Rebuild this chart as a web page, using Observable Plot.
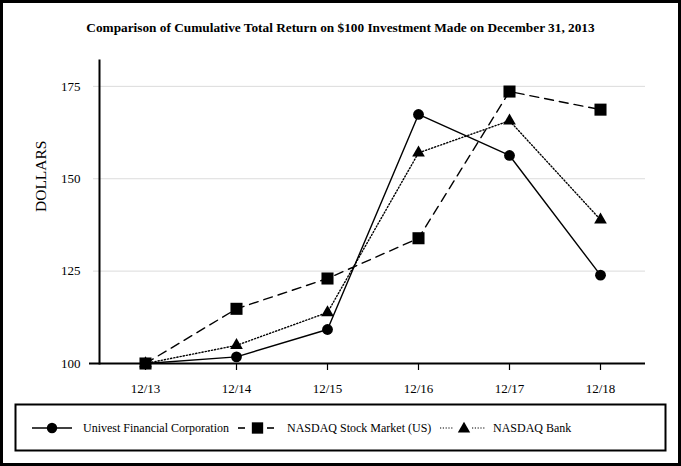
<!DOCTYPE html>
<html>
<head>
<meta charset="utf-8">
<script src="https://cdn.jsdelivr.net/npm/d3@7"></script>
<script src="https://cdn.jsdelivr.net/npm/@observablehq/plot@0.6"></script>
<style>
  html, body { margin: 0; padding: 0; background: #fff; }
  #wrap { position: relative; width: 681px; height: 466px; overflow: hidden; font-family: "Liberation Serif", "Times New Roman", serif; color: #000; }
  #border { position: absolute; left: 0; top: 0; width: 681px; height: 466px; box-sizing: border-box; border: 3px solid #000; pointer-events: none; }
  #title { position: absolute; left: 0; top: 18px; width: 681px; text-align: center; font-weight: bold; font-size: 13.3px; line-height: 20px; }
  #chart { position: absolute; left: 0; top: 40px; }
  #legend { position: absolute; left: 0; top: 395px; }
</style>
</head>
<body>
<div id="wrap">
  <div id="title">Comparison of Cumulative Total Return on $100 Investment Made on December 31, 2013</div>
  <div id="chart"></div>
  <div id="legend"></div>
  <div id="border"></div>
</div>
<script>
// ---- data ----
const years = ["12/13", "12/14", "12/15", "12/16", "12/17", "12/18"];
const seriesNames = ["Univest Financial Corporation", "NASDAQ Stock Market (US)", "NASDAQ Bank"];
const univest = [100, 101.8, 109.2, 167.4, 156.3, 123.9];
const nasdaqMarket = [100, 114.8, 123.0, 133.9, 173.6, 168.7];
const nasdaqBank = [100, 104.9, 113.8, 157.0, 165.7, 138.9];
const yTicks = [100, 125, 150, 175];
const gridTicks = [125, 150, 175];

const toRows = (vals, name) => years.map((y, i) => ({year: y, value: vals[i], series: name}));
const allRows = [toRows(univest, seriesNames[0]), toRows(nasdaqMarket, seriesNames[1]), toRows(nasdaqBank, seriesNames[2])];

const styles = [
  {dash: null, symbol: "circle", r: 5.4},
  {dash: "9,6", symbol: "square", r: 6.8},
  {dash: "1.2,2", symbol: "triangle", r: 4.7}
];

const FONT = "Liberation Serif, Times New Roman, serif";
const marks = [
  Plot.ruleY(gridTicks, {stroke: "#dcdcdc", strokeWidth: 1, insetLeft: -6}),
  Plot.axisX({ticks: years, tickSize: 7, tickPadding: 13, strokeWidth: 1.2, label: null, fontSize: 13}),
  Plot.axisY({ticks: yTicks, tickSize: 0, tickPadding: 19, label: null, fontSize: 13}),
  Plot.frame({anchor: "left", stroke: "black", strokeWidth: 2}),
  Plot.ruleY([100], {stroke: "black", strokeWidth: 2, insetLeft: -10}),
  Plot.text(["DOLLARS"], {frameAnchor: "left", rotate: -90, dx: -58, fontSize: 15.5, text: d => d, fill: "black"})
];
allRows.forEach((rows, i) => {
  marks.push(Plot.line(rows, {x: "year", y: "value", stroke: "black", strokeWidth: 1.4, strokeDasharray: styles[i].dash}));
});
allRows.forEach((rows, i) => {
  marks.push(Plot.dot(rows, {x: "year", y: "value", fill: "black", stroke: "none", symbol: styles[i].symbol, r: styles[i].r}));
});

const chart = Plot.plot({
  width: 681,
  height: 355,
  marginLeft: 99,
  marginRight: 36,
  marginTop: 20,
  marginBottom: 32,
  style: {fontFamily: FONT, fontSize: "13px", color: "black", background: "transparent", overflow: "visible"},
  x: {type: "point", domain: years, padding: 0.5, label: null},
  y: {domain: [100, 182], label: null},
  marks
});
document.getElementById("chart").appendChild(chart);

// ---- legend ----
const ns = "http://www.w3.org/2000/svg";
const lg = document.createElementNS(ns, "svg");
lg.setAttribute("width", 681);
lg.setAttribute("height", 68);
const mk = (tag, attrs) => { const e = document.createElementNS(ns, tag); for (const k in attrs) e.setAttribute(k, attrs[k]); lg.appendChild(e); return e; };
mk("rect", {x: 15.5, y: 9.5, width: 650, height: 46, fill: "none", stroke: "black", "stroke-width": 2});
const cy = 33;
const items = [{cx: 52, tx: 83}, {cx: 257.5, tx: 287}, {cx: 464, tx: 493}];
items.forEach((it, i) => {
  if (i === 1) {
    mk("line", {x1: 238, x2: 245, y1: cy, y2: cy, stroke: "black", "stroke-width": 1.6});
    mk("line", {x1: 267, x2: 274, y1: cy, y2: cy, stroke: "black", "stroke-width": 1.6});
  } else if (i === 2) {
    mk("line", {x1: 440, x2: 453, y1: cy, y2: cy, stroke: "black", "stroke-width": 1.2, "stroke-dasharray": "1.2,1.6"});
    mk("line", {x1: 472, x2: 486, y1: cy, y2: cy, stroke: "black", "stroke-width": 1.2, "stroke-dasharray": "1.2,1.6"});
  } else {
    mk("line", {x1: 32, x2: 72, y1: cy, y2: cy, stroke: "black", "stroke-width": 1.6});
  }
  const sym = d3.symbol().type([d3.symbolCircle, d3.symbolSquare, d3.symbolTriangle][i]).size(Math.PI * [5.2, 6.4, 4.6][i] ** 2)();
  mk("path", {d: sym, transform: `translate(${it.cx},${cy + (i === 2 ? 1 : 0)})`, fill: "black"});
  const t = mk("text", {x: it.tx, y: cy, "dominant-baseline": "central", "font-size": 12, "font-family": FONT, fill: "black"});
  t.textContent = seriesNames[i];
});
document.getElementById("legend").appendChild(lg);
</script>
</body>
</html>
